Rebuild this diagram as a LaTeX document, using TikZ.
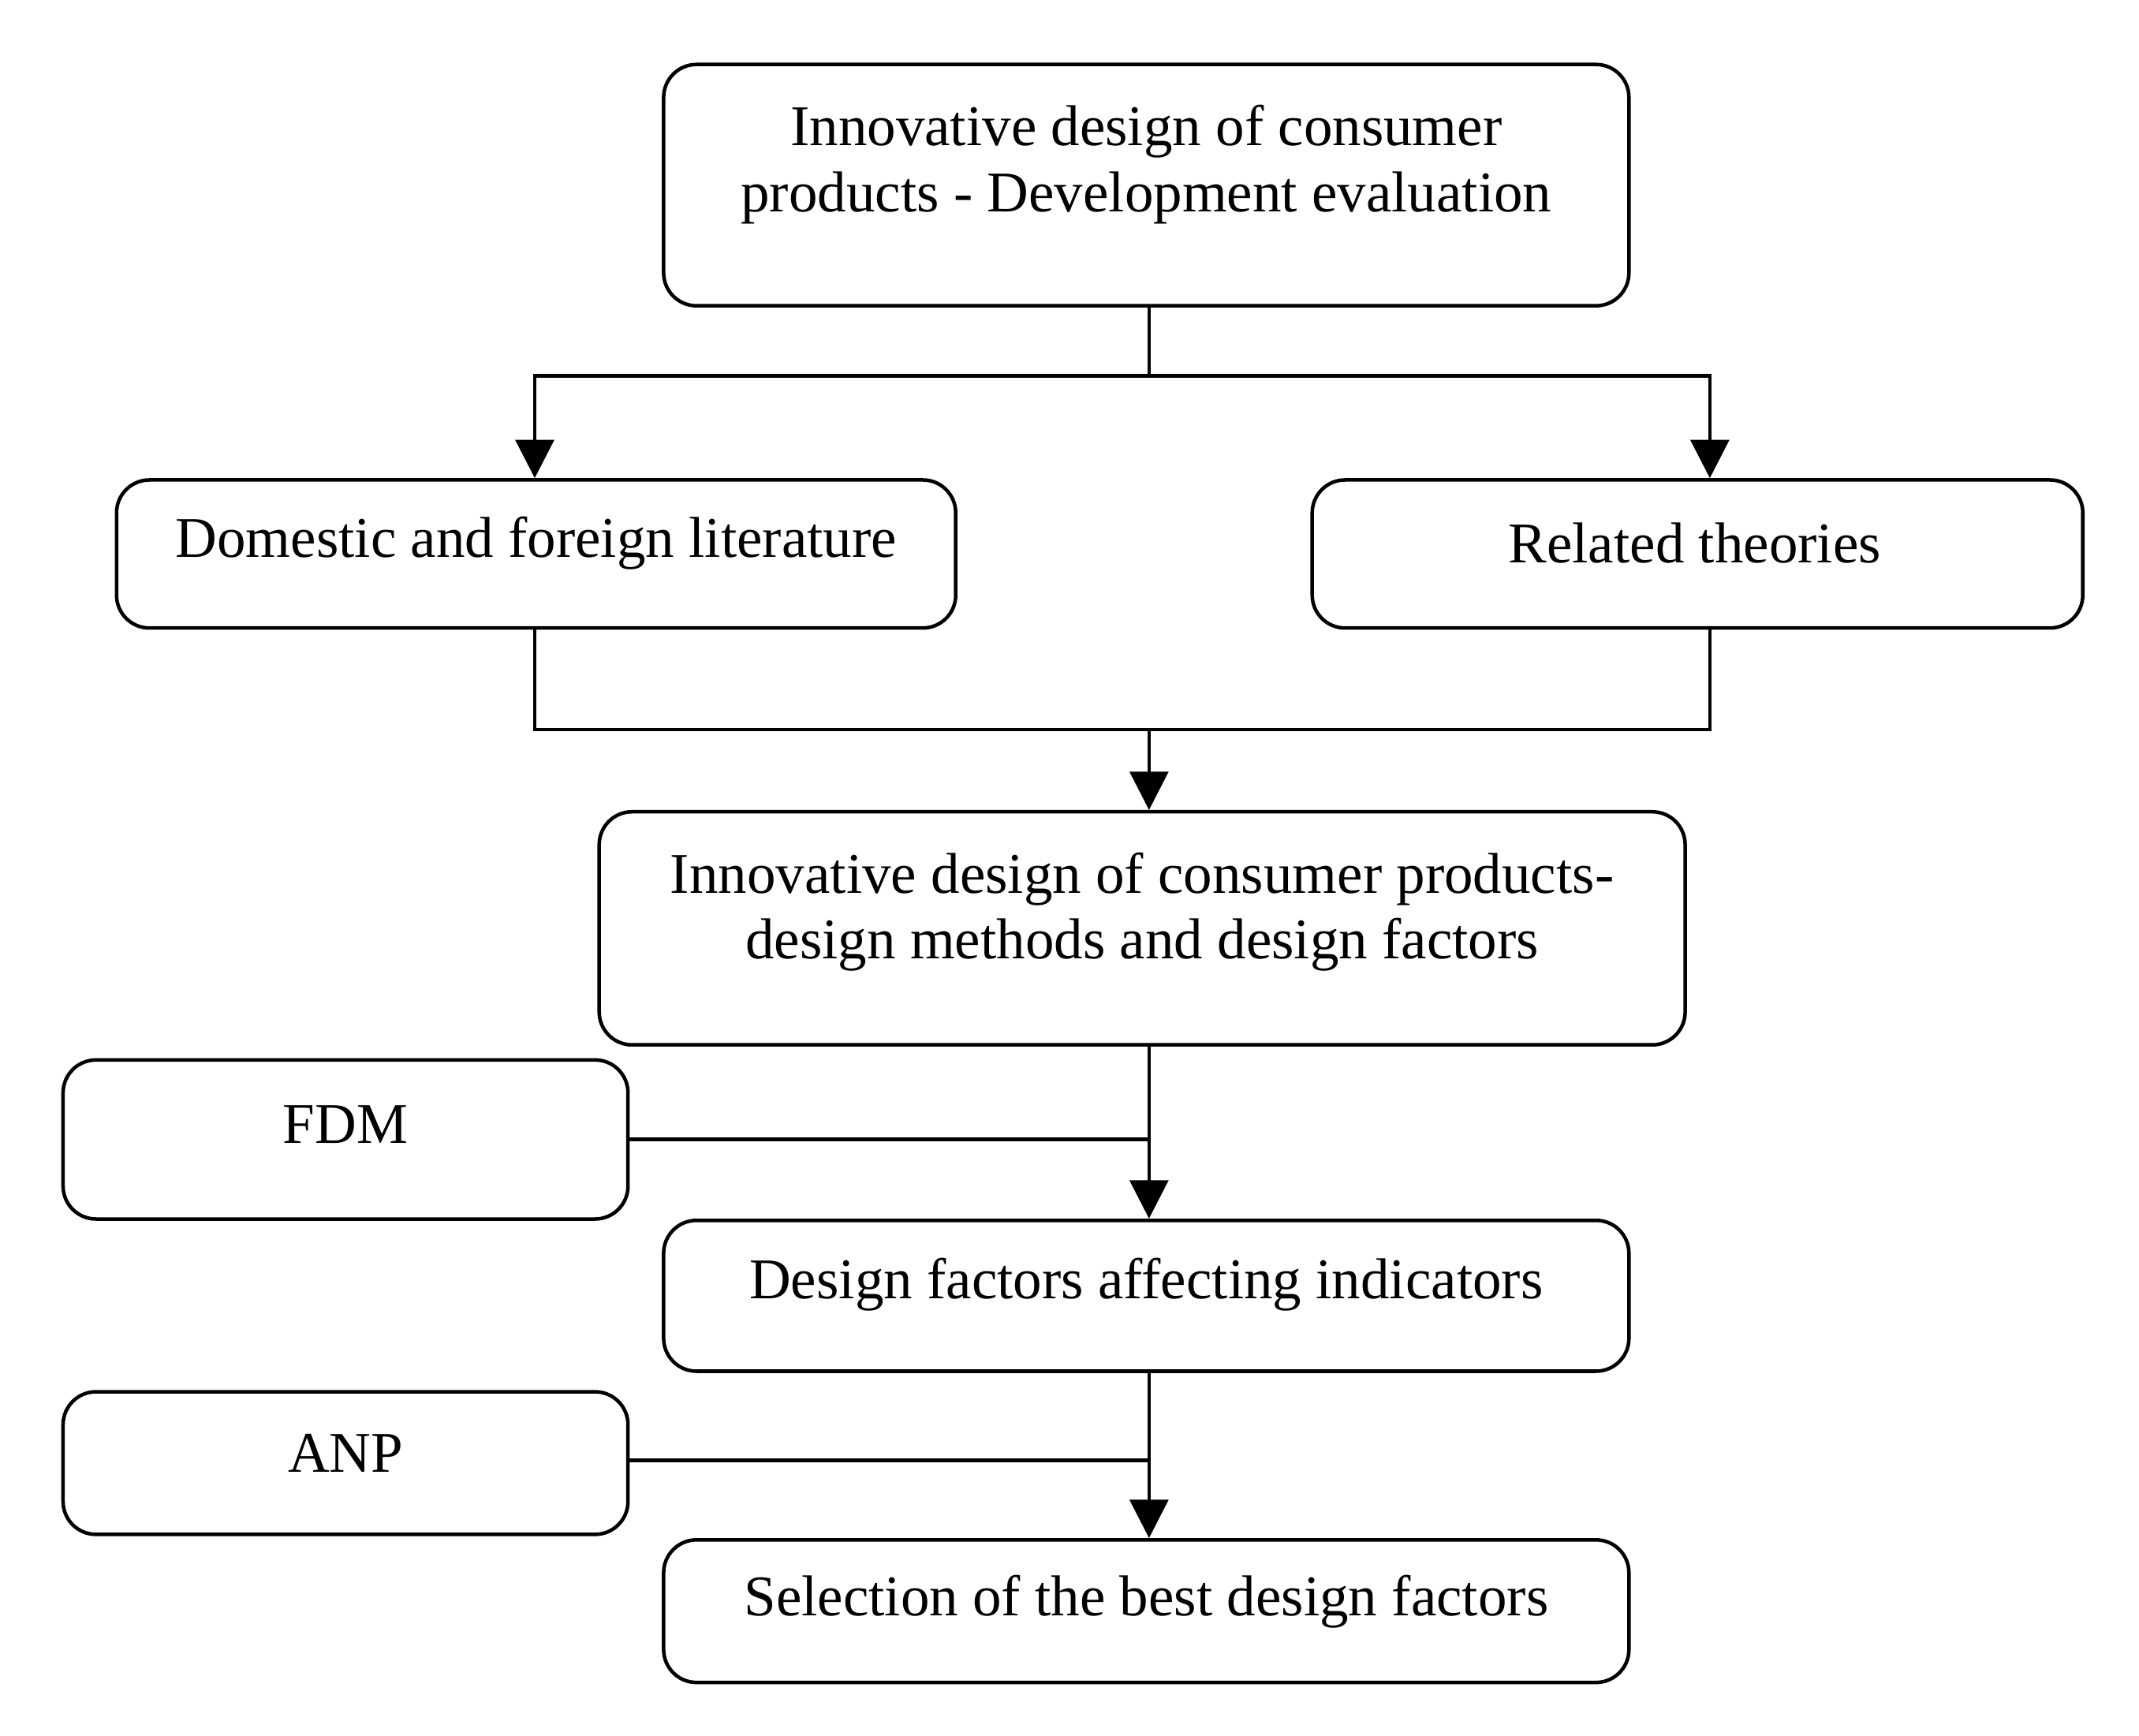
\documentclass[tikz,border=0pt]{standalone}
\usepackage{fontspec}
\setmainfont{Liberation Serif}
\usetikzlibrary{arrows.meta}
\begin{document}
\begin{tikzpicture}[x=0.5pt,y=-0.5pt,
  box/.style={draw,line width=1.3pt,rounded corners=12pt,inner sep=0pt,align=center,font=\fontsize{21}{24}\selectfont},
  lbl/.style={font=\fontsize{21}{24}\selectfont,align=center},
  ln/.style={line width=1.3pt},
  ar/.style={line width=1.3pt,-{Triangle[length=14pt,width=14pt]}}]
\useasboundingbox (0,0) rectangle (1560,1266);
\node[box,minimum width=352pt,minimum height=88pt] (top) at (836,135) {};
\node[lbl] at (836,120) {Innovative design of consumer\\products - Development evaluation};
\node[box,minimum width=306pt,minimum height=54pt] (lit) at (391,404) {};
\node[lbl] at (391,396) {Domestic and foreign literature};
\node[box,minimum width=281pt,minimum height=54pt] (rel) at (1238,404) {};
\node[lbl] at (1236,396) {Related theories};
\node[box,minimum width=396pt,minimum height=85pt] (mid) at (833,677) {};
\node[lbl] at (833,665) {Innovative design of consumer products-\\design methods and design factors};
\node[box,minimum width=206pt,minimum height=58pt] (fdm) at (252,831) {};
\node[lbl] at (252,820) {FDM};
\node[box,minimum width=352pt,minimum height=55pt] (dfi) at (836,945) {};
\node[lbl] at (836,937) {Design factors affecting indicators};
\node[box,minimum width=206pt,minimum height=52pt] (anp) at (252,1067) {};
\node[lbl] at (252,1060) {ANP};
\node[box,minimum width=352pt,minimum height=52pt] (sel) at (836,1175) {};
\node[lbl] at (836,1168) {Selection of the best design factors};
\coordinate (j1) at (838,274);
\coordinate (j2) at (838,532);
\draw[ln] (top.south -| j1) -- (j1);
\draw[ar] (j1) -| (lit.north -| 390,0);
\draw[ar] (j1) -| (rel.north -| 1247,0);
\draw[ln] (lit.south -| 390,0) |- (j2) -| (rel.south -| 1247,0);
\draw[ar] (j2) -- (mid.north -| j2);
\draw[ar] (mid.south -| j2) -- (dfi.north -| j2);
\draw[ln] (fdm.east |- 0,831) -- (838,831);
\draw[ar] (dfi.south -| j2) -- (sel.north -| j2);
\draw[ln] (anp.east |- 0,1065) -- (838,1065);
\end{tikzpicture}
\end{document}
